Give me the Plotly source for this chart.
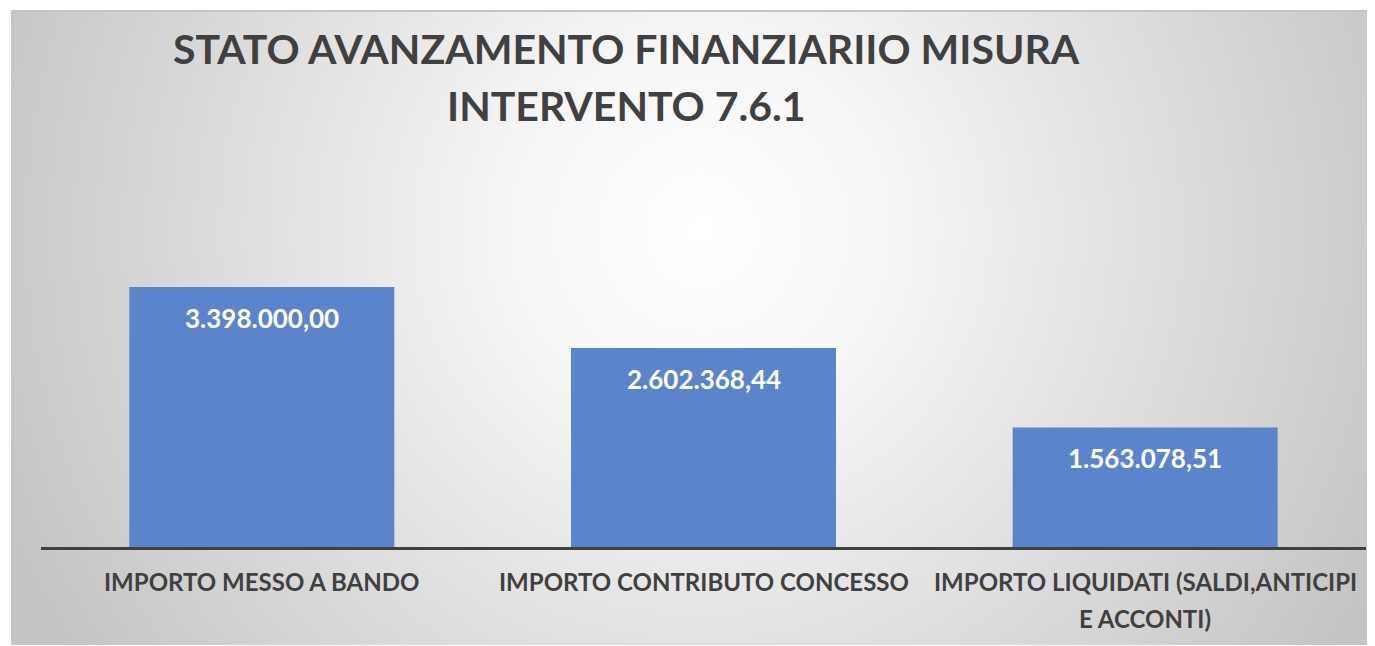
import base64
import plotly.graph_objects as go

categories = ["IMPORTO MESSO A BANDO", "IMPORTO CONTRIBUTO CONCESSO",
              "IMPORTO LIQUIDATI (SALDI,ANTICIPI<br>E ACCONTI)"]
values = [3398000.00, 2602368.44, 1563078.51]
value_labels = ["3.398.000,00", "2.602.368,44", "1.563.078,51"]
title_lines = ["STATO AVANZAMENTO FINANZIARIIO MISURA", "INTERVENTO 7.6.1"]

# page has an 8px body margin; figure coords = page coords - 8
OFF = 8
W, H = 1375 - OFF, 646 - OFF
L, R, B = 41 - OFF, 1375 - 1366, 646 - 547
T = H - B - 306
pw, ph = W - L - R, H - T - B

svg = """<svg xmlns='http://www.w3.org/2000/svg' width='1364' height='635' viewBox='0 0 1364 635' preserveAspectRatio='none'>
<defs><radialGradient id='g' gradientUnits='userSpaceOnUse' cx='690' cy='220' r='760'>
<stop offset='0' stop-color='#ffffff'/><stop offset='0.25' stop-color='#f6f6f6'/><stop offset='1' stop-color='#c4c4c4'/></radialGradient></defs>
<rect width='1364' height='635' fill='url(#g)'/>
<rect x='0' y='0' width='1364' height='2' fill='#c4c4c4'/>
</svg>"""
src = "data:image/svg+xml;base64," + base64.b64encode(svg.encode()).decode()


def px_x(p):
    return (p - OFF - L) / pw


def px_y(p):
    return (H - B - (p - OFF)) / ph


FONT = "Lato"
TXT = "#404040"
fig = go.Figure()
fig.add_trace(go.Bar(
    x=categories, y=values, width=0.6,
    marker=dict(color="#5B84CA", line=dict(width=0)),
    hoverinfo="skip",
))
for c, v, t in zip(categories, values, value_labels):
    fig.add_annotation(x=c, y=v, text="<b>" + t + "</b>", showarrow=False,
                       yanchor="middle", yshift=-31,
                       font=dict(family=FONT, size=26, color="white"))

for c in categories:
    for i, line in enumerate(c.split("<br>")):
        fig.add_annotation(x=c, y=0, text="<b>" + line + "</b>", showarrow=False,
                           yanchor="middle", yshift=-34 - 37 * i,
                           font=dict(family=FONT, size=24, color=TXT))

for yy, line in zip([48, 105], title_lines):
    fig.add_annotation(xref="paper", yref="paper", x=px_x(626), y=px_y(yy),
                       text="<b>" + line + "</b>", showarrow=False,
                       xanchor="center", yanchor="middle",
                       font=dict(family=FONT, size=41, color=TXT))

fig.add_layout_image(dict(source=src, xref="paper", yref="paper",
                          x=px_x(11), y=px_y(10), sizex=1364 / pw, sizey=635 / ph,
                          xanchor="left", yanchor="top", sizing="stretch",
                          layer="below"))

fig.update_layout(
    width=W, height=H,
    margin=dict(l=L, r=R, t=T, b=B),
    paper_bgcolor="white", plot_bgcolor="rgba(0,0,0,0)",
    showlegend=False,
    xaxis=dict(showline=True, linecolor=TXT, linewidth=3, ticks="",
               showticklabels=False, showgrid=False, zeroline=False),
    yaxis=dict(range=[0, 4000000], visible=False, showgrid=False, zeroline=False),
    bargap=0.4,
)
fig.write_html("out.html")
